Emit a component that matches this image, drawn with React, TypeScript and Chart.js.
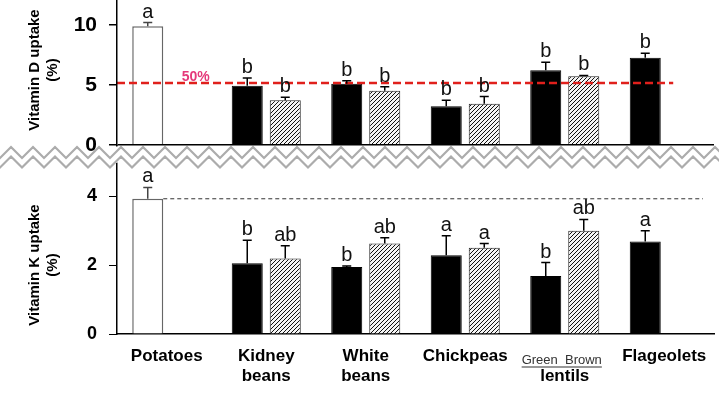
import React, { useEffect, useRef } from 'react';
import { Chart, registerables } from 'chart.js';

Chart.register(...registerables);

// ---------- data ----------
const categories = ['Potatoes', 'Kidney beans', 'White beans', 'Chickpeas', 'lentils', 'Flageolets'];
const categoryTickLabels: (string | string[])[] = ['Potatoes', ['Kidney', 'beans'], ['White', 'beans'], 'Chickpeas', ['', 'lentils'], 'Flageolets'];
const lentilSubLabel = 'Green  Brown';

const vitDSolid = [9.9, 4.94, 5.1, 3.22, 6.22, 7.28];
const vitDSolidErr = [0.3, 0.65, 0.25, 0.5, 0.67, 0.36];
const vitDSolidLetters = ['a', 'b', 'b', 'b', 'b', 'b'];
const vitDHatched = [null, 3.72, 4.53, 3.44, 5.72, null];
const vitDHatchedErr = [null, 0.25, 0.33, 0.6, 0.08, null];
const vitDHatchedLetters = ['', 'b', 'b', 'b', 'b', ''];

const vitKSolid = [3.92, 2.05, 1.94, 2.28, 1.68, 2.68];
const vitKSolidErr = [0.33, 0.67, 0.03, 0.57, 0.39, 0.31];
const vitKSolidLetters = ['a', 'b', 'b', 'a', 'b', 'a'];
const vitKHatched = [null, 2.19, 2.62, 2.5, 2.99, null];
const vitKHatchedErr = [null, 0.37, 0.17, 0.12, 0.33, null];
const vitKHatchedLetters = ['', 'ab', 'ab', 'a', 'ab', ''];

const vitDRefValue = 5.17;
const vitDRefLabel = '50%';
const vitKRefValue = 3.92;
const vitDTicks = [0, 5, 10];
const vitKTicks = [0, 2, 4];
const vitDTitle = ['Vitamin D uptake', '(%)'];
const vitKTitle = ['Vitamin K uptake', '(%)'];

const errorsByDataset = [vitDSolidErr, vitDHatchedErr, vitKSolidErr, vitKHatchedErr];
const lettersByDataset = [vitDSolidLetters, vitDHatchedLetters, vitKSolidLetters, vitKHatchedLetters];

function makeHatch(): CanvasPattern | string {
  const c = document.createElement('canvas');
  c.width = 4;
  c.height = 4;
  const g = c.getContext('2d');
  if (!g) return '#888';
  g.fillStyle = '#f4f4f4';
  g.fillRect(0, 0, 4, 4);
  g.strokeStyle = '#111';
  g.lineWidth = 1;
  g.beginPath();
  g.moveTo(-1, 5); g.lineTo(5, -1);
  g.moveTo(-1, 1); g.lineTo(1, -1);
  g.moveTo(3, 5); g.lineTo(5, 3);
  g.stroke();
  return g.createPattern(c, 'repeat') || '#888';
}

const zeroPadding = (s: any) => {
  s.paddingTop = 0;
  s.paddingBottom = 0;
  s.paddingLeft = 0;
  s.paddingRight = 0;
};

const decorPlugin = {
  id: 'decor',
  afterDatasetsDraw(chart: any) {
    const ctx: CanvasRenderingContext2D = chart.ctx;
    const xs = chart.scales.x;
    const yD = chart.scales.yD;
    const yK = chart.scales.yK;
    const area = chart.chartArea;
    const catW = xs.getPixelForValue(1) - xs.getPixelForValue(0);

    // reference lines
    ctx.save();
    ctx.strokeStyle = '#e0201c';
    ctx.lineWidth = 2.5;
    ctx.setLineDash([8, 4]);
    const ry = yD.getPixelForValue(vitDRefValue);
    ctx.beginPath();
    ctx.moveTo(area.left, ry);
    ctx.lineTo(xs.getPixelForValue(5) + catW * 0.09, ry);
    ctx.stroke();
    ctx.setLineDash([]);
    ctx.fillStyle = '#e5397a';
    ctx.font = 'bold 14px Arial, "Liberation Sans", sans-serif';
    ctx.textAlign = 'left';
    ctx.textBaseline = 'alphabetic';
    ctx.fillText(vitDRefLabel, xs.getPixelForValue(0) + catW * 0.15, ry - 2);

    const potBar = chart.getDatasetMeta(2).data[0];
    const ky = yK.getPixelForValue(vitKRefValue);
    ctx.strokeStyle = '#333';
    ctx.lineWidth = 1;
    ctx.setLineDash([4, 3]);
    ctx.beginPath();
    ctx.moveTo(potBar.x + potBar.width / 2, ky);
    ctx.lineTo(area.right - 11, ky);
    ctx.stroke();
    ctx.setLineDash([]);
    ctx.restore();

    // error bars and letters
    ctx.save();
    chart.data.datasets.forEach((ds: any, di: number) => {
      const meta = chart.getDatasetMeta(di);
      const ys = chart.scales[ds.yAxisID];
      meta.data.forEach((bar: any, i: number) => {
        const v = ds.data[i];
        if (v == null) return;
        const e = errorsByDataset[di][i] as number;
        const top = ys.getPixelForValue(v + e);
        const bTop = ys.getPixelForValue(v);
        ctx.strokeStyle = i === 0 ? '#444' : '#000';
        ctx.lineWidth = 1.5;
        ctx.beginPath();
        ctx.moveTo(bar.x, bTop);
        ctx.lineTo(bar.x, top);
        ctx.moveTo(bar.x - 4.5, top);
        ctx.lineTo(bar.x + 4.5, top);
        ctx.stroke();
        ctx.fillStyle = '#111';
        ctx.font = '20px Arial, "Liberation Sans", sans-serif';
        ctx.textAlign = 'center';
        ctx.textBaseline = 'alphabetic';
        ctx.fillText(lettersByDataset[di][i], bar.x, top - 5);
      });
    });
    ctx.restore();

    // zigzag axis break
    const y0 = yD.getPixelForValue(0);
    const W = chart.width;
    const period = 22;
    const amp = 11;
    const phase = 11;
    const upper = (x: number) => {
      const t = (((x - phase) % period) + period) % period;
      const d = t <= period / 2 ? t : period - t;
      return y0 + 2 + (d / (period / 2)) * amp;
    };
    const off = 9.5;
    ctx.save();
    ctx.fillStyle = '#fff';
    ctx.beginPath();
    ctx.moveTo(0, y0 + 1);
    ctx.lineTo(W, y0 + 1);
    for (let x = W; x >= 0; x -= period / 2) {
      ctx.lineTo(x, upper(x) + off);
    }
    ctx.lineTo(0, upper(0) + off);
    ctx.closePath();
    ctx.fill();
    ctx.strokeStyle = '#acacac';
    ctx.lineWidth = 2.2;
    for (const o of [0, off]) {
      ctx.beginPath();
      ctx.moveTo(0, upper(0) + o);
      let x = phase - period;
      while (x < W + period) {
        ctx.lineTo(x, upper(x) + o);
        x += period / 2;
      }
      ctx.stroke();
    }
    ctx.restore();
  },
  afterDraw(chart: any) {
    const ctx: CanvasRenderingContext2D = chart.ctx;
    const xs = chart.scales.x;
    const yD = chart.scales.yD;
    const yK = chart.scales.yK;
    const area = chart.chartArea;
    ctx.save();
    // axis titles
    ctx.fillStyle = '#000';
    ctx.font = 'bold 15px Arial, "Liberation Sans", sans-serif';
    ctx.textAlign = 'center';
    ctx.textBaseline = 'middle';
    const drawTitle = (lines: string[], cy: number) => {
      lines.forEach((t, k) => {
        ctx.save();
        ctx.translate(35 + k * 18, cy);
        ctx.rotate(-Math.PI / 2);
        ctx.fillText(t, 0, 0);
        ctx.restore();
      });
    };
    drawTitle(vitDTitle, (yD.getPixelForValue(10) + yD.getPixelForValue(0)) / 2 - 15);
    drawTitle(vitKTitle, (yK.getPixelForValue(4) + yK.getPixelForValue(0)) / 2);

    // lentils sub label
    ctx.font = '13px Arial, "Liberation Sans", sans-serif';
    ctx.fillStyle = '#333';
    ctx.textAlign = 'center';
    ctx.textBaseline = 'alphabetic';
    const cx = xs.getPixelForValue(4) - 3;
    const by = area.bottom + 30;
    ctx.fillText(lentilSubLabel, cx, by);
    const w = ctx.measureText(lentilSubLabel).width;
    ctx.strokeStyle = '#333';
    ctx.lineWidth = 1.2;
    ctx.beginPath();
    ctx.moveTo(cx - w / 2, by + 3);
    ctx.lineTo(cx + w / 2, by + 3);
    ctx.stroke();
    ctx.restore();
  },
};

export default function App() {
  const ref = useRef<HTMLCanvasElement | null>(null);
  useEffect(() => {
    if (!ref.current) return;
    const hatch = makeHatch();
    const solidBg = (ctx: any) => (ctx.dataIndex === 0 ? '#ffffff' : '#000000');
    const solidBorder = (ctx: any) => (ctx.dataIndex === 0 ? '#666666' : '#000000');
    const solidBw = (ctx: any) => (ctx.dataIndex === 0 ? 1.5 : 1);
    const tickFontD = { family: 'Arial, "Liberation Sans", sans-serif', size: 21, weight: 'bold' as const };
    const tickFontK = { family: 'Arial, "Liberation Sans", sans-serif', size: 18, weight: 'bold' as const };
    const chart = new Chart(ref.current, {
      type: 'bar',
      data: {
        labels: categoryTickLabels as any,
        datasets: [
          { label: 'Vitamin D', data: vitDSolid, yAxisID: 'yD', stack: 'solid', backgroundColor: solidBg, borderColor: solidBorder, borderWidth: solidBw },
          { label: 'Vitamin D hatched', data: vitDHatched, yAxisID: 'yD', stack: 'hatched', backgroundColor: hatch as any, borderColor: '#222', borderWidth: 1 },
          { label: 'Vitamin K', data: vitKSolid, yAxisID: 'yK', stack: 'solid', backgroundColor: solidBg, borderColor: solidBorder, borderWidth: solidBw },
          { label: 'Vitamin K hatched', data: vitKHatched, yAxisID: 'yK', stack: 'hatched', backgroundColor: hatch as any, borderColor: '#222', borderWidth: 1 },
        ] as any,
      },
      options: {
        responsive: false,
        animation: false,
        layout: { padding: { left: 0, top: 0, right: 5, bottom: 10 } },
        categoryPercentage: 0.764,
        barPercentage: 0.816,
        plugins: { legend: { display: false }, tooltip: { enabled: false } },
        scales: {
          x: {
            type: 'category',
            afterFit: (s: any) => { s.height = 53; zeroPadding(s); },
            grid: { display: false, drawTicks: false },
            border: { display: true, color: '#000', width: 1.5 },
            ticks: {
              color: '#000',
              padding: 12,
              maxRotation: 0,
              autoSkip: false,
              font: { family: 'Arial, "Liberation Sans", sans-serif', size: 17, weight: 'bold' },
            },
          },
          yK: {
            type: 'linear',
            position: 'left',
            stack: 'v',
            stackWeight: 188,
            min: 0,
            max: 5.45,
            afterFit: (s: any) => { s.width = 117; zeroPadding(s); },
            afterBuildTicks: (s: any) => { s.ticks = vitKTicks.map((v) => ({ value: v })); },
            grid: { drawOnChartArea: false, tickColor: '#000', tickLength: 8 },
            border: { display: true, color: '#000', width: 1.5 },
            ticks: { color: '#000', padding: 12, font: tickFontK },
          },
          yD: {
            type: 'linear',
            position: 'left',
            stack: 'v',
            stackWeight: 146,
            min: -1 / 12,
            max: 12.083,
            afterFit: (s: any) => { s.width = 117; zeroPadding(s); },
            afterBuildTicks: (s: any) => { s.ticks = vitDTicks.map((v) => ({ value: v })); },
            grid: {
              z: 1,
              drawOnChartArea: true,
              color: (c: any) => (c.tick && c.tick.value === 0 ? '#000' : 'rgba(0,0,0,0)'),
              lineWidth: 1.5,
              tickColor: '#000',
              tickLength: 8,
            },
            border: { z: 1, display: true, color: '#000', width: 1.5 },
            ticks: { z: 1, color: '#000', padding: 12, font: tickFontD },
          },
        },
      } as any,
      plugins: [decorPlugin],
    });
    return () => chart.destroy();
  }, []);
  return (
    <div style={{ position: 'absolute', left: 0, top: 0, width: 719, height: 397, background: '#fff' }}>
      <canvas ref={ref} width={719} height={397} aria-label={categories.join(', ')} />
    </div>
  );
}
